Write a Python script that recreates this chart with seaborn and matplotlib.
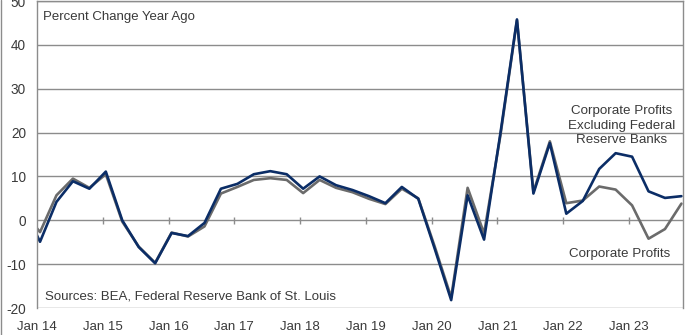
import matplotlib
matplotlib.use("Agg")
import matplotlib.pyplot as plt
from matplotlib.lines import Line2D
import numpy as np
import pandas as pd
import seaborn as sns

# quarterly, 2013Q4 .. 2023Q4 (first point sits just left of the axis)
quarters = [f"{y}Q{q}" for y in range(2013, 2024) for q in range(1, 5)][3:]

ex_fed = [
    3.0,
    -4.9, 4.2, 8.9, 7.2,
    11.1, 0.0, -6.1, -9.8,
    -2.9, -3.6, -0.6, 7.2,
    8.3, 10.5, 11.2, 10.5,
    7.2, 10.0, 8.0, 6.9,
    5.5, 3.9, 7.6, 4.9,
    -6.5, -18.2, 5.7, -4.4,
    20.0, 45.8, 6.1, 17.6,
    1.5, 4.4, 11.7, 15.3,
    14.5, 6.6, 5.1, 5.5,
]
total = [
    2.0,
    -2.7, 5.7, 9.5, 7.4,
    10.5, -0.3, -6.0, -9.7,
    -2.8, -3.7, -1.4, 6.1,
    7.6, 9.2, 9.6, 9.2,
    6.2, 9.2, 7.4, 6.4,
    4.9, 3.7, 7.2, 5.0,
    -6.0, -17.6, 7.4, -3.0,
    19.5, 45.6, 6.5, 18.0,
    3.9, 4.5, 7.7, 7.0,
    3.4, -4.2, -2.0, 3.8,
]
year_ticks = list(range(2014, 2024))
year_labels = [f"Jan {y % 100:02d}" for y in year_ticks]
y_ticks = [-20, -10, 0, 10, 20, 30, 40, 50]

NAVY = "#0b2d66"
GREY = "#6b6b6b"
TEXT = "#3a3a3a"
GRID = "#8c8c8c"


def quarter_to_x(label: str) -> float:
    year, q = label.split("Q")
    return int(year) + (int(q) - 1) / 4 + 0.046


frame = pd.DataFrame({
    "x": [quarter_to_x(q) for q in quarters] * 2,
    "value": total + ex_fed,
    "series": ["Corporate Profits"] * len(total) + ["Ex Fed"] * len(ex_fed),
})

sns.set_style("white")
plt.rcParams["font.family"] = ["Liberation Sans Narrow", "Liberation Sans", "DejaVu Sans"]

fig = plt.figure(figsize=(6.87, 3.35), dpi=100)
ax = fig.add_axes([37 / 687, 27 / 335, 646 / 687, 307 / 335])

sns.lineplot(
    data=frame, x="x", y="value", hue="series",
    palette={"Corporate Profits": GREY, "Ex Fed": NAVY},
    linewidth=1.9, legend=False, ax=ax,
)

ax.set_xlim(2014, 2023.82)
ax.set_ylim(-20, 50)
ax.set_yticks(y_ticks)
ax.set_yticklabels([str(v) for v in y_ticks], color=TEXT, fontsize=9.8)
ax.set_xticks(year_ticks)
ax.set_xticklabels(year_labels, color=TEXT, fontsize=9.5)
ax.tick_params(axis="x", length=0, pad=9)
ax.tick_params(axis="y", length=0, pad=8)
ax.set_xlabel("")
ax.set_ylabel("")

for v in y_ticks:
    ax.axhline(v, color=GRID, linewidth=1.0, zorder=0)
# small year ticks sitting on the zero line
ax.vlines(year_ticks[1:], -0.8, 0.8, color=GRID, linewidth=1.0, zorder=0)

for side in ["left", "top", "right"]:
    ax.spines[side].set_color(GRID)
    ax.spines[side].set_linewidth(1.0)
ax.spines["bottom"].set_visible(False)

# thin frame line down the left edge of the picture
fig.add_artist(Line2D([0.001, 0.001], [0, 1], color=GRID, linewidth=1.0))

ax.text(2014.09, 46.3, "Percent Change Year Ago", color=TEXT, fontsize=9.5, va="center")
ax.text(2014.12, -17.3, "Sources: BEA, Federal Reserve Bank of St. Louis",
        color=TEXT, fontsize=9.5, va="center")
ax.text(2022.88, 21.6, "Corporate Profits\nExcluding Federal\nReserve Banks",
        color=TEXT, fontsize=9.6, ha="center", va="center", linespacing=1.3)
ax.text(2022.86, -7.6, "Corporate Profits", color=TEXT, fontsize=9.6, ha="center", va="center")

fig.savefig("out.png", dpi=100)
